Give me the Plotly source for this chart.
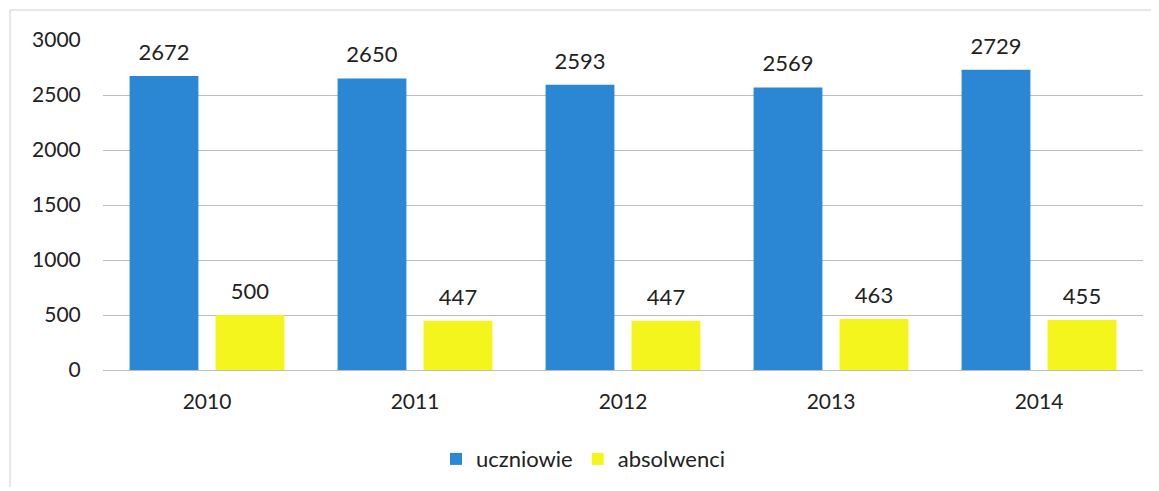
import plotly.graph_objects as go

years = ["2010", "2011", "2012", "2013", "2014"]
uczniowie = [2672, 2650, 2593, 2569, 2729]
absolwenci = [500, 447, 447, 463, 455]
y_ticks = [0, 500, 1000, 1500, 2000, 2500, 3000]

BLUE = "#2B86D4"
YELLOW = "#F5F51E"
FONT = "Lato"
TXT = "#222222"

OFF = 8  # default body margin of the html page
W, H = 1159 - OFF - 4, 491 - OFF - 4
L, R, T, B = 103 - OFF, 1159 - 1143 - 4, 40 - OFF, 491 - 370 - 4
LABEL_PAD = 75  # invisible spacer (in axis units) lifting value labels above bars

fig = go.Figure()
fig.add_trace(go.Bar(x=years, y=uczniowie, name="uczniowie", marker_color=BLUE,
                     marker_line_width=0, offsetgroup="u", hoverinfo="x+y"))
fig.add_trace(go.Bar(x=years, y=absolwenci, name="absolwenci", marker_color=YELLOW,
                     marker_line_width=0, offsetgroup="a", hoverinfo="x+y"))

for series, grp in ((uczniowie, "u"), (absolwenci, "a")):
    fig.add_trace(go.Bar(x=years, y=[LABEL_PAD] * len(series), base=series,
                         offsetgroup=grp, marker_color="rgba(0,0,0,0)",
                         marker_line_width=0,
                         text=series, textposition="outside", cliponaxis=False,
                         textfont=dict(family=FONT, size=22, color=TXT),
                         showlegend=False, hoverinfo="skip"))

pw = W - L - R
ph = H - T - B

def px_x(x):
    return (x - OFF - L) / pw

def px_y(y):
    return (H - B - (y - OFF)) / ph

fig.add_shape(type="rect", xref="paper", yref="paper",
              x0=px_x(10), x1=px_x(1153), y0=px_y(500), y1=px_y(10),
              line=dict(color="#d0d0d0", width=1), layer="below")

fig.update_layout(
    width=W, height=H,
    margin=dict(l=L, r=R, t=T, b=B, autoexpand=False),
    paper_bgcolor="white", plot_bgcolor="white",
    barmode="group", bargap=0.173, bargroupgap=0.2,
    font=dict(family=FONT, size=22, color=TXT),
    showlegend=True,
    legend=dict(orientation="h", x=0.462, xanchor="center", y=-0.27, yanchor="middle",
                font=dict(family=FONT, size=22, color=TXT)),
    xaxis=dict(type="category",
               showgrid=False, showline=True, linecolor="#bdbdbd", linewidth=1,
               ticks="outside", ticklen=13, tickcolor="rgba(0,0,0,0)",
               tickfont=dict(size=21), automargin=False),
    yaxis=dict(range=[0, 3000], tickvals=y_ticks, showgrid=True, gridcolor="#bdbdbd",
               gridwidth=1, zeroline=False, showline=False,
               ticks="outside", ticklen=17, tickcolor="rgba(0,0,0,0)",
               tickfont=dict(size=21), automargin=False),
)

fig.write_html("out.html")
